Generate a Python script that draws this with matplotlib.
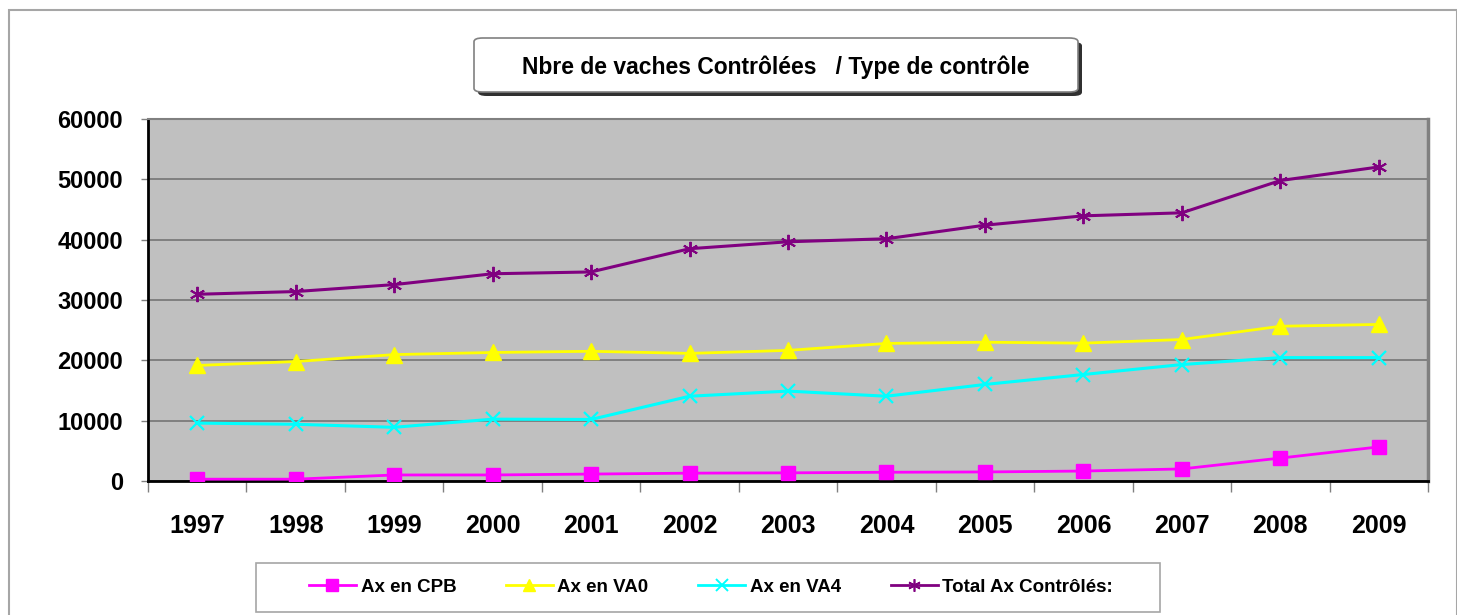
import numpy as np
import matplotlib
matplotlib.use("Agg")
import matplotlib.pyplot as plt
from matplotlib.patches import FancyBboxPatch, Rectangle
from matplotlib.lines import Line2D

plt.rcParams['font.family'] = ['Liberation Sans', 'DejaVu Sans']

years = ['1997', '1998', '1999', '2000', '2001', '2002', '2003',
         '2004', '2005', '2006', '2007', '2008', '2009']
cpb = [300, 300, 1000, 1000, 1150, 1300, 1350, 1450, 1500, 1650, 2000, 3800, 5650]
va0 = [19150, 19800, 20950, 21300, 21500, 21150, 21650, 22800, 23000, 22850, 23450, 25650, 25950]
va4 = [9600, 9400, 8900, 10250, 10200, 14050, 14900, 14050, 16000, 17650, 19300, 20450, 20450]
total = [30950, 31400, 32550, 34350, 34650, 38500, 39650, 40150, 42400, 43950, 44450, 49800, 52050]

labels = ['Ax en CPB', 'Ax en VA0', 'Ax en VA4', 'Total Ax Contrôlés:']
colors = ['#FF00FF', '#FFFF00', '#00FFFF', '#800080']

W, H = 1457, 615
fig = plt.figure(figsize=(W / 100, H / 100), dpi=100)
fig.patch.set_facecolor('white')

# outer chart border
fig.patches.append(Rectangle((9 / W, -0.1), (W - 9) / W, 1 - 10 / H + 0.1,
                             transform=fig.transFigure, fill=False,
                             edgecolor='#A6A6A6', lw=1.5))

# plot area: x 148..1428, y 119..481 (pixels from top)
ax = fig.add_axes([148 / W, 1 - 481 / H, 1280 / W, 362 / H])
ax.set_facecolor('#C0C0C0')

x = np.arange(len(years))
ax.plot(x, cpb, color=colors[0], lw=2, marker='s', ms=10, mec=colors[0], zorder=3)
ax.plot(x, va0, color=colors[1], lw=2, marker='^', ms=11, mec=colors[1], zorder=3)
ax.plot(x, va4, color=colors[2], lw=2.2, marker='x', ms=10, mew=1.6, zorder=3)
ax.plot(x, total, color=colors[3], lw=2.2, marker=(6, 2, 0), ms=11, mew=1.4, zorder=3)

ax.set_xlim(-0.5, len(years) - 0.5)
ax.set_ylim(0, 60000)
ax.set_yticks(np.arange(0, 60001, 10000))
ax.set_yticklabels([str(v) for v in range(0, 60001, 10000)],
                   fontsize=17, fontweight='bold')
ax.yaxis.grid(True, color='#808080', lw=1.4)
ax.set_axisbelow(True)

ax.set_xticks(x)
ax.set_xticklabels(years, fontsize=18, fontweight='bold')
ax.set_xticks(np.arange(-0.5, len(years)), minor=True)
ax.tick_params(axis='x', which='major', length=0, pad=24)
ax.tick_params(axis='x', which='minor', length=8, color='#808080', width=1)
ax.tick_params(axis='y', length=5, color='#808080', width=1, pad=13)

ax.spines['left'].set_color('black')
ax.spines['left'].set_linewidth(2)
ax.spines['bottom'].set_color('black')
ax.spines['bottom'].set_linewidth(2)
ax.spines['top'].set_color('#808080')
ax.spines['top'].set_linewidth(1.5)
ax.spines['right'].set_color('#808080')
ax.spines['right'].set_linewidth(2.5)

# title box with shadow
tx0, tx1, ty0, ty1 = 474, 1078, 38, 92
fig.patches.append(FancyBboxPatch((tx0 / W + 4 / W, 1 - ty1 / H - 4 / H),
                                  (tx1 - tx0) / W, (ty1 - ty0) / H,
                                  boxstyle='round,pad=0,rounding_size=0.006',
                                  transform=fig.transFigure,
                                  facecolor='#303030', edgecolor='none'))
fig.patches.append(FancyBboxPatch((tx0 / W, 1 - ty1 / H),
                                  (tx1 - tx0) / W, (ty1 - ty0) / H,
                                  boxstyle='round,pad=0,rounding_size=0.006',
                                  transform=fig.transFigure,
                                  facecolor='white', edgecolor='#808080', lw=1.2))
fig.text((tx0 + tx1) / 2 / W, 1 - 67 / H, 'Nbre de vaches Contrôlées   / Type de contrôle',
         ha='center', va='center', fontsize=16.5, fontweight='bold')

# legend box
fig.patches.append(Rectangle((256 / W, 1 - 612 / H), 904 / W, 49 / H,
                             transform=fig.transFigure, facecolor='white',
                             edgecolor='#A6A6A6', lw=1.2))
handles = [
    Line2D([], [], color=colors[0], lw=2, marker='s', ms=8),
    Line2D([], [], color=colors[1], lw=2, marker='^', ms=9),
    Line2D([], [], color=colors[2], lw=2, marker='x', ms=8, mew=1.4),
    Line2D([], [], color=colors[3], lw=2, marker=(6, 2, 0), ms=9, mew=1.2),
]
leg = fig.legend(handles, labels, loc='center', bbox_to_anchor=(711 / W, 1 - 587 / H),
                 ncol=4, frameon=False, handlelength=2.5, handletextpad=0.25,
                 columnspacing=2.65, prop={'size': 13.5, 'weight': 'bold'})

fig.savefig('out.png', dpi=100)
